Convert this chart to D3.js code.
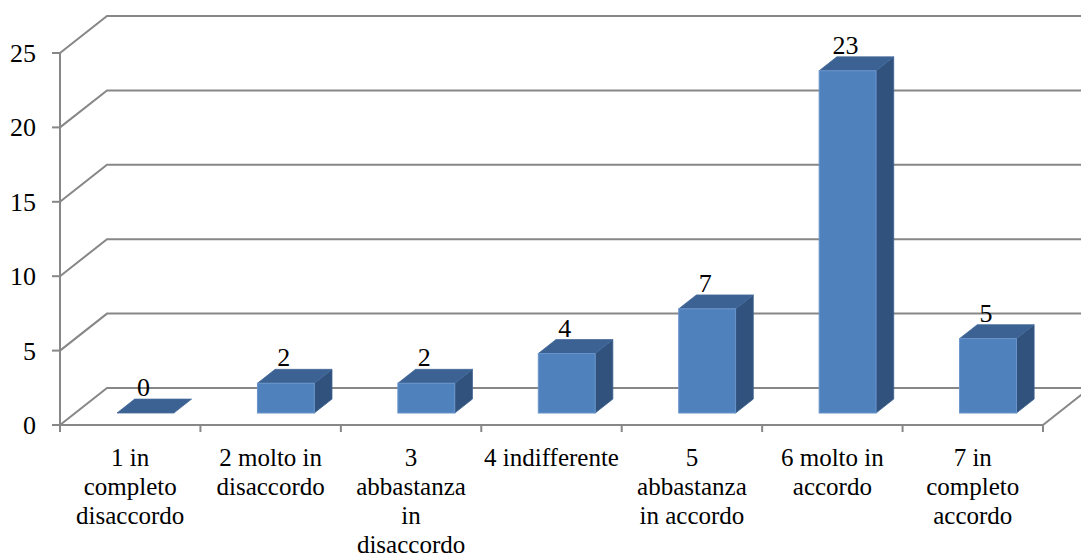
<!DOCTYPE html>
<html>
<head>
<meta charset="utf-8">
<script src="https://cdn.jsdelivr.net/npm/d3@7"></script>
<style>
  html, body { margin: 0; padding: 0; background: #fff; }
  svg { display: block; }
</style>
</head>
<body>
<svg id="chart" width="1081" height="559"></svg>
<script>
// Risposte per livello di accordo (scala 1-7)
const categories = [
  ["1 in", "completo", "disaccordo"],
  ["2 molto in", "disaccordo"],
  ["3", "abbastanza", "in", "disaccordo"],
  ["4 indifferente"],
  ["5", "abbastanza", "in accordo"],
  ["6 molto in", "accordo"],
  ["7 in", "completo", "accordo"]
];
const values = [0, 2, 2, 4, 7, 23, 5];
const yTicks = [0, 5, 10, 15, 20, 25];

// Pick the first installed serif face (Times-like preferred)
function pickFont(candidates, fallback) {
  const ctx = document.createElement("canvas").getContext("2d");
  const probe = "abbastanza disaccordo 0123456789 mwil";
  for (const f of candidates) {
    let differs = false;
    for (const base of ["monospace", "sans-serif"]) {
      ctx.font = `40px ${base}`;
      const w0 = ctx.measureText(probe).width;
      ctx.font = `40px '${f}', ${base}`;
      if (ctx.measureText(probe).width !== w0) { differs = true; break; }
    }
    if (differs) return `'${f}', serif`;
  }
  return fallback;
}
const FONT = pickFont(
  ["Liberation Serif", "Tinos", "Times New Roman", "DejaVu Serif", "Noto Serif", "FreeSerif", "Nimbus Roman", "Times"],
  "'Liberation Sans', Arial, sans-serif"
);

const svg = d3.select("#chart");

// Front plane of the 3D box and the depth offset of the back wall
const left = 60, right = 1043, floorY = 425, topY = 53;
const DX = 47, DY = -37;
// Depth range occupied by the bars (fraction of the box depth)
const t1 = 0.324, t2 = 0.70;

const keys = categories.map((c, i) => i);
const x = d3.scaleBand().domain(keys).range([left, right]).padding(0);
const y = d3.scaleLinear().domain([0, 25]).range([floorY, topY]);

const gridColor = "#878787";

// Back-wall gridlines bending around the left wall
const grid = svg.append("g");
yTicks.forEach(v => {
  const yy = y(v);
  grid.append("path")
    .attr("d", `M${left},${yy} L${left + DX},${yy + DY} L${right + DX + 10},${yy + DY}`)
    .attr("fill", "none").attr("stroke", gridColor).attr("stroke-width", 2);
});

// Right edge of the floor
svg.append("path")
  .attr("d", `M${right},${floorY} L${right + DX},${floorY + DY}`)
  .attr("fill", "none").attr("stroke", gridColor).attr("stroke-width", 2);

// Value axis
svg.append("line")
  .attr("x1", left).attr("x2", left).attr("y1", y(25)).attr("y2", floorY)
  .attr("stroke", gridColor).attr("stroke-width", 2);
yTicks.forEach(v => {
  svg.append("line")
    .attr("x1", left - 8).attr("x2", left).attr("y1", y(v)).attr("y2", y(v))
    .attr("stroke", gridColor).attr("stroke-width", 2);
  svg.append("text")
    .attr("x", 36).attr("y", y(v) + 9)
    .attr("text-anchor", "end")
    .style("font-family", FONT).style("font-size", "26px")
    .text(v);
});

// Category axis
svg.append("line")
  .attr("x1", left).attr("x2", right).attr("y1", floorY).attr("y2", floorY)
  .attr("stroke", gridColor).attr("stroke-width", 2);
const bounds = keys.map(k => x(k)).concat([right]);
bounds.forEach(bx => {
  svg.append("line")
    .attr("x1", bx).attr("x2", bx).attr("y1", floorY).attr("y2", floorY + 7)
    .attr("stroke", gridColor).attr("stroke-width", 2);
});

// 3D bars
const bw = x.bandwidth() * 0.405;
const fx = DX * t1, fy = DY * t1;                 // front face offset
const ddx = DX * (t2 - t1), ddy = DY * (t2 - t1); // bar depth

const bars = svg.append("g");
keys.forEach(i => {
  const v = values[i];
  const cx = x(i) + x.bandwidth() / 2 + fx;
  const x0 = cx - bw / 2, x1 = cx + bw / 2;
  const yb = y(0) + fy, yt = y(v) + fy;
  const g = bars.append("g");
  // side face
  if (v > 0) {
    g.append("path")
      .attr("d", `M${x1},${yb} L${x1 + ddx},${yb + ddy} L${x1 + ddx},${yt + ddy} L${x1},${yt} Z`)
      .attr("fill", "#30527d").attr("stroke", "#3a5f8d").attr("stroke-width", 0.8);
  }
  // top face
  g.append("path")
    .attr("d", `M${x0},${yt} L${x1},${yt} L${x1 + ddx},${yt + ddy} L${x0 + ddx},${yt + ddy} Z`)
    .attr("fill", "#3b6293").attr("stroke", "#45699a").attr("stroke-width", 0.8);
  // front face
  if (v > 0) {
    g.append("rect")
      .attr("x", x0).attr("y", yt).attr("width", bw).attr("height", yb - yt)
      .attr("fill", "#4f81bd").attr("stroke", "#6a95cb").attr("stroke-width", 1);
  }
  // value label
  svg.append("text")
    .attr("x", cx - 2).attr("y", yt + ddy - 3)
    .attr("text-anchor", "middle")
    .style("font-family", FONT).style("font-size", "26px")
    .text(v);
});

// Category labels
keys.forEach(i => {
  const t = svg.append("text")
    .attr("text-anchor", "middle")
    .style("font-family", FONT).style("font-size", "25px");
  categories[i].forEach((line, j) => {
    t.append("tspan")
      .attr("x", x(i) + x.bandwidth() / 2)
      .attr("y", 466 + j * 29)
      .text(line);
  });
});
</script>
</body>
</html>
